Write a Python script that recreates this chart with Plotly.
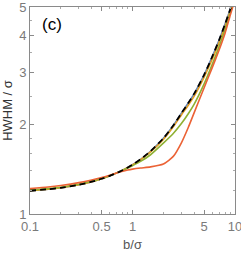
import plotly.graph_objects as go

b_vals = [0.1, 0.15, 0.2, 0.3, 0.4, 0.5, 0.6, 0.75, 0.9, 1.0, 1.2, 1.5, 2.0, 2.5, 3.0, 3.5, 4.0, 5.0, 6.0, 7.0, 8.0, 9.0, 10.0]

hw_blue   = [1.198, 1.212, 1.226, 1.255, 1.285, 1.315, 1.345, 1.390, 1.436, 1.466, 1.530, 1.628, 1.800, 1.990, 2.190, 2.370, 2.550, 2.950, 3.400, 3.870, 4.380, 4.920, 5.450]
hw_orange = [1.199, 1.213, 1.227, 1.256, 1.286, 1.316, 1.346, 1.390, 1.435, 1.465, 1.527, 1.620, 1.785, 1.970, 2.160, 2.330, 2.500, 2.900, 3.330, 3.800, 4.300, 4.850, 5.400]
hw_green  = [1.204, 1.218, 1.231, 1.260, 1.289, 1.318, 1.347, 1.390, 1.430, 1.456, 1.505, 1.585, 1.735, 1.870, 2.020, 2.180, 2.350, 2.750, 3.200, 3.680, 4.200, 4.780, 5.350]
hw_red    = [1.218, 1.233, 1.248, 1.276, 1.303, 1.328, 1.352, 1.386, 1.408, 1.417, 1.429, 1.442, 1.475, 1.565, 1.740, 1.960, 2.200, 2.670, 3.120, 3.580, 4.080, 4.700, 5.300]
hw_black  = [1.198, 1.212, 1.226, 1.255, 1.285, 1.315, 1.345, 1.390, 1.436, 1.467, 1.531, 1.629, 1.801, 1.990, 2.190, 2.370, 2.550, 2.950, 3.400, 3.870, 4.380, 4.920, 5.450]

x_tick_vals = [0.1, 0.5, 1, 5, 10]
x_tick_text = ["0.1", "0.5", "1", "5", "10"]
y_tick_vals = [1, 2, 3, 4, 5]
y_tick_text = ["1", "2", "3", "4", "5"]

series = [
    ("blue", hw_blue, "#5E81B5"),
    ("orange", hw_orange, "#E19C24"),
    ("green", hw_green, "#8FB032"),
    ("red", hw_red, "#EB6235"),
]

fig = go.Figure()
for name, ys, col in series:
    fig.add_trace(go.Scatter(x=b_vals, y=ys, mode="lines", name=name, cliponaxis=True,
                             line=dict(color=col, width=1.6, shape="spline", smoothing=0.6)))
fig.add_trace(go.Scatter(x=b_vals, y=hw_black, mode="lines", name="black",
                         line=dict(color="black", width=1.8, dash="6px,4px", shape="spline", smoothing=0.6)))

font_fam = "Liberation Sans, Arial, sans-serif"
axis_common = dict(showgrid=False, zeroline=False, showline=True, linecolor="#8a8a8a", linewidth=1,
                   mirror="ticks", ticks="inside", ticklen=4, tickcolor="#8a8a8a", automargin=False,
                   ticklabeloverflow="allow",
                   tickfont=dict(family=font_fam, size=13, color="#7a7a7a"))

fig.update_xaxes(type="log", range=[-1, 1.0001], tickvals=x_tick_vals, ticktext=x_tick_text,
                 minor=dict(ticks="inside", ticklen=2, tickcolor="#aaaaaa",
                            tickvals=[0.2, 0.3, 0.4, 0.6, 0.7, 0.8, 0.9, 2, 3, 4, 6, 7, 8, 9]),
                 title=dict(text="b/σ", font=dict(family=font_fam, size=13, color="#555555"), standoff=7),
                 **axis_common)
fig.update_yaxes(type="log", range=[-0.0001, 0.6991], tickvals=y_tick_vals, ticktext=y_tick_text,
                 minor=dict(ticks="inside", ticklen=2, tickcolor="#aaaaaa",
                            tickvals=[1.2, 1.4, 1.6, 1.8, 2.5, 3.5, 4.5]),
                 title=dict(text="HWHM / σ", font=dict(family=font_fam, size=13, color="#333333"), standoff=4),
                 **axis_common)

fig.add_annotation(x=0.05, y=0.915, xref="paper", yref="paper", text="(c)", showarrow=False,
                   xanchor="left", yanchor="middle",
                   font=dict(family=font_fam, size=17, color="black"))

fig.update_layout(width=241, height=258, margin=dict(l=30, r=6, t=7, b=44),
                  paper_bgcolor="white", plot_bgcolor="white", showlegend=False)

fig.write_html("out.html", config={"displayModeBar": False},
               post_script="document.body.style.margin='0';document.body.style.padding='0';")
